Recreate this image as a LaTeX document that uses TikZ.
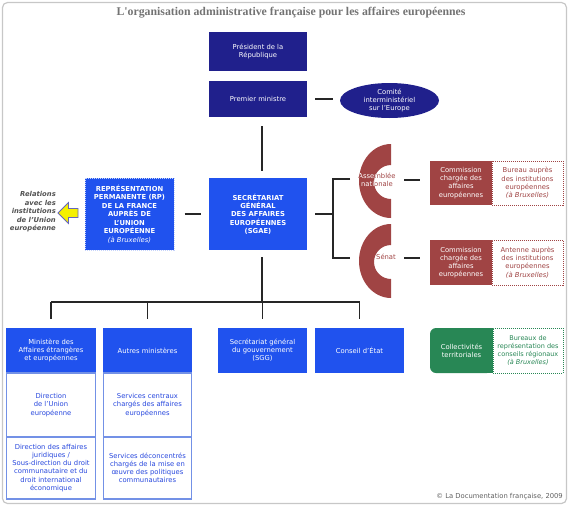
\documentclass[tikz,border=0pt]{standalone}
\usepackage{fontspec}
\setmainfont{DejaVu Sans}
\newfontfamily\titlefont{Liberation Serif}
\usetikzlibrary{shapes.geometric}
\definecolor{navy}{RGB}{32,32,140}
\definecolor{bblue}{RGB}{32,82,238}
\definecolor{maroon}{RGB}{160,68,68}
\definecolor{dgreen}{RGB}{40,135,85}
\definecolor{lblue}{RGB}{115,145,230}
\definecolor{tblue}{RGB}{40,72,222}
\definecolor{greytxt}{RGB}{95,95,95}
\definecolor{titlegrey}{RGB}{115,115,115}
\definecolor{arrowyel}{RGB}{245,240,0}
\tikzset{
  base/.style={inner sep=0pt, align=center, font=\fontsize{6.8}{8.2}\selectfont},
  sz/.style n args={2}{minimum width=#1, minimum height=#2},
  navybox/.style={base, fill=navy, text=white},
  bluebox/.style={base, fill=bblue, text=white},
  subbox/.style={base, fill=white, draw=lblue, line width=1.3pt, text=tblue},
  redbox/.style={base, fill=maroon, text=white},
  reddot/.style={base, fill=white, draw=maroon, densely dotted, line width=1pt, text=maroon},
  greendot/.style={base, fill=white, draw=dgreen, densely dotted, line width=1pt, text=dgreen},
  conn/.style={draw=black!85, line width=1.2pt},
  ring/.style={fill=maroon},
}
\begin{document}
\begin{tikzpicture}[x=1pt,y=-1pt]
\useasboundingbox (0,0) rectangle (569,506);
\draw[black!22, line width=1.2pt, rounded corners=5pt] (2.5,2.5) rectangle (566.5,503.5);

% title
\node[inner sep=0pt, text=titlegrey] (title) at (291,13)
  {\titlefont\bfseries\fontsize{11.8}{14}\selectfont L'organisation administrative française pour les affaires européennes};

% top
\node[navybox, sz={98pt}{39pt}] (pres) at (258,51.5) {Président de la\\République};
\node[navybox, sz={98pt}{36pt}] (pm) at (258,99) {Premier ministre};
\node[base, ellipse, fill=navy, text=white, minimum width=99pt, minimum height=35pt] (comite) at (389.5,100.5)
  {Comité\\interministériel\\sur l'Europe};

% SGAE and RP
\node[bluebox, sz={98pt}{72pt}, font=\fontsize{6.8}{8.3}\selectfont\bfseries] (sgae) at (258,214)
  {SECRÉTARIAT\\GÉNÉRAL\\DES AFFAIRES\\EUROPÉENNES\\(SGAE)};
\node[bluebox, sz={89pt}{72pt}, draw={rgb:white,3;bblue,1}, densely dotted, line width=1pt,
      font=\fontsize{6.8}{8.5}\selectfont\bfseries] (rp) at (129.5,214)
  {REPRÉSENTATION\\PERMANENTE (RP)\\DE LA FRANCE\\AUPRÈS DE\\L'UNION\\EUROPÉENNE\\{\mdseries\itshape (à Bruxelles)}};

% yellow arrow
\filldraw[fill=arrowyel, draw=black!45!blue!60, line width=0.8pt]
  (58,213) -- (68.5,202.5) -- (68.5,208.5) -- (78,208.5) -- (78,217.5) -- (68.5,217.5) -- (68.5,223.5) -- cycle;
\node[base, anchor=east, align=right, text=greytxt!85!black, font=\fontsize{6.8}{8.5}\selectfont\bfseries\itshape] (rel) at (56,212)
  {Relations\\avec les\\institutions\\de l'Union\\européenne};

% rings
\path[ring] (391,144) arc[start angle=90, end angle=270, x radius=32pt, y radius=37pt]
  -- (391,199) arc[start angle=270, end angle=90, radius=17pt] -- cycle;
\path[ring] (391,224) arc[start angle=90, end angle=270, x radius=32pt, y radius=37pt]
  -- (391,279) arc[start angle=270, end angle=90, radius=17pt] -- cycle;
\node[base, text=maroon] (asm) at (377,180) {Assemblée\\nationale};
\node[base, text=maroon] (sen) at (386,257) {Sénat};
\begin{scope}
  \clip (391,144) arc[start angle=90, end angle=270, x radius=32pt, y radius=37pt]
    -- (391,199) arc[start angle=270, end angle=90, radius=17pt] -- cycle;
  \node[base, text=white] (asmw) at (377,180) {Assemblée\\nationale};
\end{scope}
\begin{scope}
  \clip (391,224) arc[start angle=90, end angle=270, x radius=32pt, y radius=37pt]
    -- (391,279) arc[start angle=270, end angle=90, radius=17pt] -- cycle;
  \node[base, text=white] (senw) at (386,257) {Sénat};
\end{scope}

% parliament commissions
\node[redbox, sz={62pt}{44pt}] (com1) at (461,183) {Commission\\chargée des\\affaires\\européennes};
\node[reddot, sz={71pt}{44pt}] (bur) at (527.5,183) {Bureau auprès\\des institutions\\européennes\\{\itshape (à Bruxelles)}};
\node[redbox, sz={62pt}{45pt}] (com2) at (461,262.5) {Commission\\chargée des\\affaires\\européennes};
\node[reddot, sz={71pt}{45pt}] (ant) at (527.5,262.5) {Antenne auprès\\des institutions\\européennes\\{\itshape (à Bruxelles)}};

% bottom row
\node[bluebox, sz={90pt}{45pt}] (mae) at (51,350.5) {Ministère des\\Affaires étrangères\\et européennes};
\node[subbox, sz={89pt}{64pt}] (mae1) at (51,405) {Direction\\de l'Union\\européenne};
\node[subbox, sz={89pt}{62pt}] (mae2) at (51,468) {Direction des affaires\\juridiques /\\Sous-direction du droit\\communautaire et du\\droit international\\économique};
\node[bluebox, sz={89pt}{45pt}] (aut) at (147.5,350.5) {Autres ministères};
\node[subbox, sz={88pt}{64pt}] (aut1) at (147.5,405) {Services centraux\\chargés des affaires\\européennes};
\node[subbox, sz={88pt}{62pt}] (aut2) at (147.5,468) {Services déconcentrés\\chargés de la mise en\\œuvre des politiques\\communautaires};
\node[bluebox, sz={89pt}{45pt}] (sgg) at (262.5,350.5) {Secrétariat général\\du gouvernement\\(SGG)};
\node[bluebox, sz={89pt}{45pt}] (ce) at (359.5,350.5) {Conseil d'État};
\fill[dgreen] (462,328) rectangle (493,373);
\node[base, fill=dgreen, text=white, rounded corners=6pt, sz={63pt}{45pt}] (coll) at (461.5,350.5) {Collectivités\\territoriales};
\node[greendot, sz={70pt}{45pt}, font=\fontsize{6.5}{8}\selectfont] (bxr) at (528,350.5) {Bureaux de\\représentation des\\conseils régionaux\\{\itshape (à Bruxelles)}};

\node[base, anchor=east, text=greytxt] (copy) at (563,497) {© La Documentation française, 2009};

% connectors
\draw[conn, shorten <=8pt, shorten >=7pt] (pm.east) -- (pm.east -| comite.west);
\draw[conn, shorten <=9pt, shorten >=7pt] ([xshift=4pt]pm.south) -- ([xshift=4pt]sgae.north);
\draw[conn, shorten <=10pt, shorten >=8pt] (rp.east) -- (sgae.west);
\coordinate (bt) at (333,179);
\coordinate (bb) at (333,258);
\coordinate (asmL) at (350,179);
\coordinate (senL) at (350,258);
\coordinate (asmR) at (404,180);
\coordinate (senR) at (404,258);
\draw[conn] (asmL) -- (bt) -- (bb) -- (senL);
\draw[conn, shorten <=8pt] (sgae.east) -- (sgae.east -| bt);
\draw[conn, shorten >=10pt] (asmR) -- (asmR -| com1.west);
\draw[conn, shorten >=10pt] (senR) -- (senR -| com2.west);
\coordinate (bus) at (262,302);
\draw[conn, shorten <=7pt] ([xshift=4pt]sgae.south) -- (bus);
\draw[conn] (mae.north |- bus) -- (ce.north |- bus);
\foreach \n in {mae,aut,sgg,ce} {
  \draw[conn, shorten >=9pt] (\n.north |- bus) -- (\n.north);
}
\end{tikzpicture}
\end{document}
